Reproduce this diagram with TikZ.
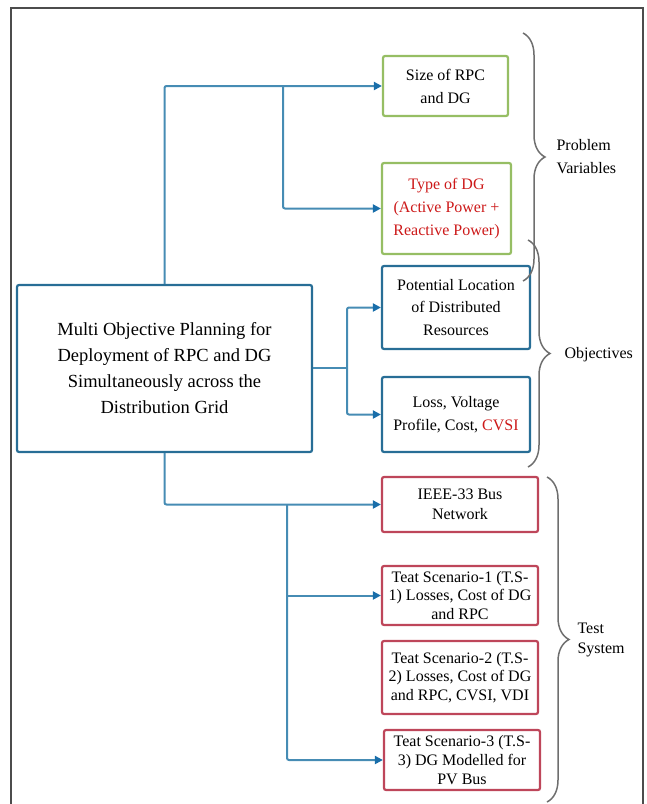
\documentclass[tikz,border=0pt]{standalone}
\usepackage{fontspec}
\setmainfont{Liberation Serif}
\usepackage{tikz}
\usetikzlibrary{arrows.meta,positioning,decorations.pathreplacing}
\definecolor{lineblue}{RGB}{70,140,180}
\definecolor{tipblue}{RGB}{25,110,170}
\definecolor{boxgreen}{RGB}{150,190,100}
\definecolor{boxblue}{RGB}{40,110,150}
\definecolor{boxred}{RGB}{190,70,90}
\definecolor{txtred}{RGB}{205,25,25}
\definecolor{bracegray}{RGB}{110,110,110}

\begin{document}
\begin{tikzpicture}[x=1pt,y=-1pt,
   box/.style={draw,line width=2.2pt,rounded corners=2pt,fill=white,align=center,
     inner sep=2pt,font=\fontsize{16}{23}\selectfont},
   pv/.style={box,draw=boxgreen},
   ob/.style={box,draw=boxblue},
   ts/.style={box,draw=boxred,font=\fontsize{16}{18.8}\selectfont},
   ln/.style={draw=lineblue,line width=2pt,rounded corners=2pt},
   arr/.style={ln,-{Triangle[length=8pt,width=8pt,color=tipblue]}},
   br/.style={draw=bracegray,line width=1.5pt,decorate,
     decoration={brace,amplitude=22pt,raise=0pt}},
   lbl/.style={anchor=west,align=left,font=\fontsize{16}{23}\selectfont}]
  \useasboundingbox (0,0) rectangle (647,804);
  \draw[black!70,line width=1.2pt] (11,8) rectangle (643,830);

  % main box
  \node[ob,minimum width=295pt,minimum height=167pt,
        font=\fontsize{18.5}{26}\selectfont] (main) at (164.5,368.5)
       {Multi Objective Planning for\\Deployment of RPC and DG\\
        Simultaneously across the\\Distribution Grid};

  % problem variables
  \node[pv,minimum width=125pt,minimum height=60pt] (size) at (445.5,86)
       {Size of RPC\\and DG};
  \node[pv,minimum width=129pt,minimum height=91pt,text=txtred] (type) at (446.5,208.5)
       {Type of DG\\(Active Power +\\Reactive Power)};

  % objectives
  \node[ob,minimum width=148pt,minimum height=83pt,font=\fontsize{16}{22.7}\selectfont]
       (pot) at (456,307.5) {Potential Location\\of Distributed\\Resources};
  \node[ob,minimum width=148pt,minimum height=75pt] (loss) at (456,414.5)
       {Loss, Voltage\\Profile, Cost, \textcolor{txtred}{CVSI}};

  % test system
  \node[ts,minimum width=156pt,minimum height=55pt,font=\fontsize{16}{20}\selectfont]
       (ieee) at (460,504.5) {IEEE-33 Bus\\Network};
  \node[ts,minimum width=156pt,minimum height=59pt] (ts1) at (460,595.5)
       {Teat Scenario-1 (T.S-\\1) Losses, Cost of DG\\and RPC};
  \node[ts,minimum width=156pt,minimum height=73pt] (ts2) at (460,677.5)
       {Teat Scenario-2 (T.S-\\2) Losses, Cost of DG\\and RPC, CVSI, VDI};
  \node[ts,minimum width=156pt,minimum height=60pt] (ts3) at (462,760)
       {Teat Scenario-3 (T.S-\\3) DG Modelled for\\PV Bus};

  % junctions
  \coordinate (j1) at (283,86);
  \coordinate (j2) at (347,368);
  \coordinate (j3) at (287,505);

  % connectors
  \draw[arr] (main.north) |- (size.west);
  \draw[arr] (j1) |- (type.west);
  \draw[ln] (main.east |- j2) -- (j2);
  \draw[arr] (j2) |- (pot.west);
  \draw[arr] (j2) |- (loss.west);
  \draw[arr] (main.south) |- (ieee.west);
  \draw[arr] (j3) |- (ts3.west);
  \draw[arr] (j3 |- ts1.west) -- (ts1.west);

  % braces
  \draw[br] (523,33) -- (523,281);
  \draw[br] (528,240) -- (528,467);
  \draw[br] (547,477) -- (547,802);
  \node[lbl] (lpv) at (553,157) {Problem\\Variables};
  \node[lbl] (lob) at (561,355) {Objectives};
  \node[lbl,font=\fontsize{16}{20}\selectfont] (lts) at (574,640) {Test\\System};
\end{tikzpicture}
\end{document}
